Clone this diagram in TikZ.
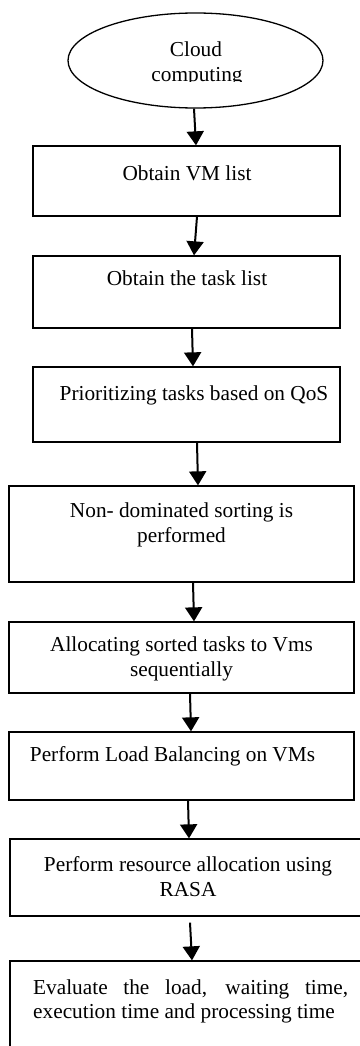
\documentclass[tikz,border=0pt]{standalone}
\usepackage{fontspec}
\setmainfont{Liberation Serif}
\usetikzlibrary{shapes.geometric,arrows.meta}
\tikzset{
  stepbox/.style={draw, line width=1.3pt, rectangle, inner sep=0pt},
  lbl/.style={anchor=base, inner sep=0pt, align=center, font=\fontsize{21.3}{24.8}\selectfont},
  flow/.style={line width=2pt, -{Triangle[width=17pt,length=14pt]}},
}
\begin{document}
\begin{tikzpicture}[x=1pt,y=-1pt]
\useasboundingbox[fill=white] (0,0) rectangle (359,1046);

% start ellipse
\node[draw, line width=1.3pt, ellipse, minimum width=255pt, minimum height=95pt, inner sep=0pt] (cloud) at (195.5,60.5) {};
\node[lbl] (cloudA) at (196,57) {Cloud};
\begin{scope}
  \clip (0,0) rectangle (359,82);
  \node[lbl] (cloudB) at (197,82) {computing};
\end{scope}

% process boxes
\node[stepbox, minimum width=307pt, minimum height=70pt] (b1) at (186.5,181) {};
\node[stepbox, minimum width=307pt, minimum height=72pt] (b2) at (186.5,292) {};
\node[stepbox, minimum width=307pt, minimum height=75pt] (b3) at (186.5,404.5) {};
\node[stepbox, minimum width=345pt, minimum height=96pt] (b4) at (181.5,534) {};
\node[stepbox, minimum width=345pt, minimum height=71pt] (b5) at (181.5,657.5) {};
\node[stepbox, minimum width=345pt, minimum height=68pt] (b6) at (181.5,766) {};
\node[stepbox, minimum width=360pt, minimum height=77pt] (b7) at (190,877.5) {};
\node[stepbox, minimum width=360pt, minimum height=110pt] (b8) at (190,1016) {};

% box texts (two-line labels sit on the baseline of their last line)
\node[lbl] (t1) at (187,180) {Obtain VM list};
\node[lbl] (t2) at (187,285) {Obtain the task list};
\node[lbl] (t3) at (194,400) {Prioritizing tasks based on QoS};
\node[lbl] (t4) at (181.5,542) {Non- dominated sorting is\\performed};
\node[lbl] (t5) at (181.5,676.5) {Allocating sorted tasks to Vms\\sequentially};
\node[lbl] (t6) at (172.5,761.7) {Perform Load Balancing on VMs};
\node[lbl] (t7) at (188,896) {Perform resource allocation using\\RASA};
\node[lbl, anchor=base west, align=justify, text width=315pt] (t8) at (33,994)
  {Evaluate the load, waiting time,\linebreak execution time and processing time};

% connectors
\draw[flow] ([xshift=-1.5pt]cloud.south) -- ([xshift=9.5pt]b1.north);
\draw[flow] ([xshift=10.5pt]b1.south) -- ([xshift=7.5pt]b2.north);
\draw[flow] ([xshift=5.5pt]b2.south) -- ([xshift=6.5pt]b3.north);
\draw[flow] ([xshift=10.5pt]b3.south) -- ([xshift=16.5pt]b4.north);
\draw[flow] ([xshift=11.5pt]b4.south) -- ([xshift=12.5pt]b5.north);
\draw[flow] ([xshift=8.5pt]b5.south) -- ([xshift=9.5pt]b6.north);
\draw[flow] ([xshift=6.5pt]b6.south) -- ([xshift=-1pt]b7.north);
\draw[flow] ([xshift=0pt,yshift=-6pt]b7.south) -- ([xshift=2pt]b8.north);
\end{tikzpicture}
\end{document}
